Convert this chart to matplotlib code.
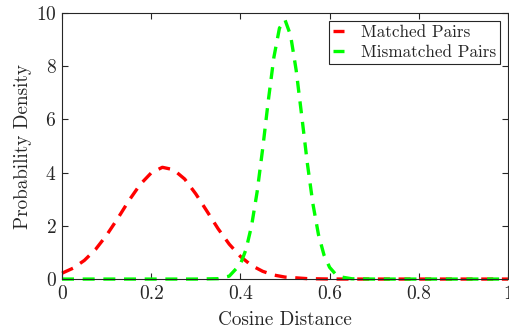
import numpy as np
import matplotlib
matplotlib.use("Agg")
import matplotlib.pyplot as plt

plt.rcParams["font.family"] = "serif"
plt.rcParams["font.serif"] = ["cmr10"]
plt.rcParams["axes.formatter.use_mathtext"] = True

# ── Data ───────────────────────────────────────────────────────
matched_x = [0.0, 0.025, 0.05, 0.075, 0.1, 0.125, 0.15, 0.175, 0.2, 0.225,
             0.25, 0.275, 0.3, 0.325, 0.35, 0.375, 0.4, 0.425, 0.45, 0.475,
             0.5, 0.55, 0.6, 0.65, 0.7, 0.8, 0.9, 1.0]
matched_y = [0.22, 0.41, 0.70, 1.11, 1.65, 2.28, 2.95, 3.55, 3.99, 4.20,
             4.11, 3.76, 3.20, 2.55, 1.89, 1.31, 0.85, 0.51, 0.29, 0.15,
             0.074, 0.015, 0.002, 0.0, 0.0, 0.0, 0.0, 0.0]

mismatched_x = [0.0, 0.1, 0.2, 0.3, 0.35, 0.375, 0.4, 0.4125, 0.425, 0.4375,
                0.45, 0.4625, 0.475, 0.4875, 0.5, 0.5125, 0.525, 0.5375,
                0.55, 0.5625, 0.575, 0.5875, 0.6, 0.6125, 0.625, 0.65,
                0.7, 0.8, 0.9, 1.0]
mismatched_y = [0.0, 0.0, 0.0, 0.0, 0.014, 0.11, 0.56, 1.11, 2.0, 3.28,
                4.91, 6.70, 8.33, 9.43, 9.74, 9.16, 7.85, 6.13,
                4.36, 2.83, 1.67, 0.90, 0.44, 0.20, 0.08, 0.01,
                0.0, 0.0, 0.0, 0.0]

xticks = [0, 0.2, 0.4, 0.6, 0.8, 1]
xtick_labels = ["0", "0.2", "0.4", "0.6", "0.8", "1"]
yticks = [0, 2, 4, 6, 8, 10]

# ── Plot ───────────────────────────────────────────────────────
fig = plt.figure(figsize=(5.1, 3.33), dpi=100)
ax = fig.add_axes([0.1216, 0.162, 0.8745, 0.799])

ax.plot(matched_x, matched_y, color="#ff0000", lw=2.4, ls="--",
        dashes=(3.6, 2.6), clip_on=False, label="Matched Pairs")
ax.plot(mismatched_x, mismatched_y, color="#00ff00", lw=2.4, ls="--",
        dashes=(3.6, 2.6), clip_on=False, label="Mismatched Pairs")

ax.set_xlim(0, 1)
ax.set_ylim(0, 10)
ax.set_xticks(xticks)
ax.set_xticklabels(xtick_labels)
ax.set_yticks(yticks)

grey = "0.15"
for s in ax.spines.values():
    s.set_color(grey)
    s.set_linewidth(0.8)
ax.tick_params(direction="in", length=4, width=0.8, top=True, right=True,
               colors=grey, labelsize=14, pad=4)
ax.set_xlabel("Cosine Distance", fontsize=13.8, color=grey, labelpad=6)
ax.set_ylabel("Probability Density", fontsize=13.8, color=grey, labelpad=3)

leg = ax.legend(loc="upper right", fontsize=12.3, handlelength=0.6,
                fancybox=False, framealpha=1, borderpad=0.25,
                labelspacing=0.25, handletextpad=1.0,
                borderaxespad=0.45)
leg.get_frame().set_edgecolor(grey)
leg.get_frame().set_linewidth(0.8)
for t in leg.get_texts():
    t.set_color(grey)

plt.savefig("out.png", dpi=100)
